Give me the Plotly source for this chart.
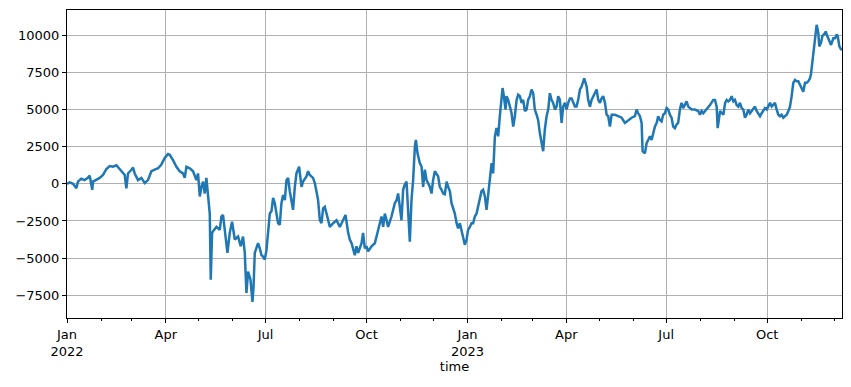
import pandas as pd
import plotly.graph_objects as go

start = "2022-01-01"
days = [0, 2.5, 5.5, 8.5, 10, 13, 16, 19, 20.7, 23, 23.7, 26.8, 29.8, 32.8, 35.9, 38.9, 41.9, 45, 47.4, 49.6,
        52.6, 54.1, 55.6, 58.7, 60.2, 61.7, 64.7, 67.8, 70.8, 73.8, 76.9, 79.9, 83,
        86, 89, 92, 93.6, 96.6, 99.7, 102.7, 105.7, 107.3, 108.8, 111.9, 114.9, 117.9, 119.4, 121, 122.5, 124,
        125.5, 127, 128.5, 130.1, 131, 132.2, 134, 136.2, 139.2, 140.7, 142.2, 143.8, 146.2, 148.3, 150.4, 152.9,
        155.9, 158.3, 160.4, 162, 163.5, 165, 167.2, 169, 170, 171.1, 172.7, 174.1, 175.7, 177.2, 178.7, 180.2,
        181.8, 183.2, 184.8, 186.3, 187.8, 189.3, 190.9, 192.3, 193.9, 195.4, 196.9, 198.5, 200, 201.5, 203,
        204.6, 206, 207.6, 209.1, 211.5, 213.7, 215.1, 218.2, 219.7, 221.2, 224.2, 225.8, 227.3, 228.8, 230.4,
        231.9, 233.4, 234.9, 236.5, 239.5, 242.5, 245.6, 248.6, 251.6, 253.8, 256.2, 257.7, 259.3, 260.7, 262.3,
        263.8, 265.3, 268.4, 269.8, 271.4, 272.9, 274.4, 277.5, 280.5, 283.5, 285.1, 286.6, 288.1, 289.6, 291.2,
        292.6, 295.7, 298.7, 300.3, 301.7, 303.3, 304.8, 306.3, 307.8, 309.4, 310.3, 311.5, 312.4, 313.9, 315.4,
        317, 317.9, 319.4, 321.5, 323.1, 324.5, 326.1, 327.6, 330.6, 332.2, 333.6, 335.2, 338.2, 339.7, 341.3,
        342.8, 344.3, 345.9, 347.3, 348.9, 350.4, 351.9, 353.4, 355, 356.4, 358, 359.5, 361, 362.5, 364.1, 365.5,
        367.1, 368.6, 370.1, 371.6, 373.2, 374.7, 376.2, 377.7, 379.2, 380.8, 382.3, 383.8, 385.3, 386.9, 388.3,
        389.2, 389.9, 391.4, 392.9, 394.4, 396, 396.9, 398.1, 399.6, 400.5, 402, 403.6, 405.1, 406.6, 408.1, 409.7,
        411.1, 412.7, 414.2, 415.7, 417.2, 418.8, 420.2, 421.8, 423.3, 424.8, 426.3, 427.9, 429.3, 430.9, 432.4,
        433.9, 435.4, 437, 438.5, 440, 441.5, 443, 444.6, 446.1, 447.6, 449.1, 450.7, 452.1, 453.7, 455.2, 456.7,
        458.3, 459.8, 461.3, 462.8, 464.3, 465.8, 467.4, 468.9, 471.3, 473.5, 474.9, 476.5, 478, 479.5, 481, 482.6,
        484.1, 485.6, 487.1, 488.6, 490.2, 491.7, 493.2, 494.7, 496.3, 499.3, 502.3, 505.4, 508.4, 511.4, 514.5,
        517.5, 519, 520.5, 522.1, 523.6, 524.5, 526.6, 528.2, 529.6, 531.2, 532.7, 534.2, 535.7, 537.3, 538.7,
        540.3, 541.8, 543.3, 544.8, 546.4, 547.8, 549.4, 550.9, 552.4, 553.9, 555.5, 556.9, 558.5, 560, 561.5,
        563.1, 564.6, 566.1, 567.6, 569.2, 572.2, 575.2, 576.8, 578.3, 579.8, 582.9, 585.9, 588.9, 590.5, 592,
        592.9, 595.1, 596.6, 598.1, 599.7, 601.1, 602.6, 604.1, 605.7, 607.2, 608.7, 610.2, 611.7, 613.2, 614.8,
        616.3, 617.8, 619.3, 620.8, 622.4, 623.9, 626.9, 628.4, 629.9, 631.5, 633, 634.5, 636, 637.6, 639.1, 640.6,
        642.1, 643.6, 645.1, 646.7, 648.2, 649.7, 651.2, 652.7, 654.3, 655.8, 657.3, 658.8, 660.3, 661.8, 663.4,
        664.9, 666.4, 667.9, 669.5, 670.9, 672.5, 674, 675.5, 677, 677.9, 679.1, 680, 681, 682.3, 683.1, 684.6,
        685.5, 687.1, 688.3, 689.8, 691.3, 692.8, 694.4, 696.2, 698.3, 699.9, 701.4, 702.3, 703.8, 705.3, 706.2]
values = [0, 100, 0, -300, 150, 350, 250, 400, 550, -400, 150, 250, 400, 600, 1000, 1200, 1150, 1250, 1050, 850,
          600, -300, 700, 950, 1100, 700, 250, 400, 50, 250, 850, 950, 1050,
          1300, 1750, 2000, 1950, 1600, 1150, 850, 700, 400, 1150, 1050, 850, 250, 700, -850, -200, 150,
          -650, 400, -850, -2000, -6450, -3300, -3100, -2900, -3100, -2200, -2100, -3100, -4650, -3300, -2550, -3750,
          -3550, -4200, -3550, -4650, -7350, -5900, -6450, -7950, -6900, -4650, -4200, -4000, -4350, -4800, -4900, -5100,
          -4450, -3100, -2000, -1850, -950, -1300, -2200, -2650, -2750, -1300, -750, -1100, 250, 400, -500,
          -1100, -1750, -200, 700, 1150, -200, 150, 500, 850, 600, 400, 50, -500, -1100, -2450,
          -2650, -1650, -1550, -2000, -2900, -2650, -2450, -2900, -2450, -2100, -3300, -3750, -4000, -4450, -4800,
          -4200, -4650, -4000, -3300, -4350, -4200, -4550, -4200, -4000, -3100, -2450, -2200, -2900, -2000, -2450,
          -2900, -2200, -1300, -1100, -650, -1550, -2450, -400, -50, 150, -1100, -2450, -3900, -1100, 250,
          2500, 2950, 2050, 1400, 1150, -200, 950, 250, -200, -650, 250, 850, 500, -200, -400,
          -650, -700, 150, -200, -500, -1300, -1650, -2000, -2650, -3000, -2650, -3100, -3650, -4100, -3750, -3100,
          -2900, -2650, -2650, -2200, -2000, -1550, -1100, -500, -400, -850, -1750, -650, 700, 1400, 700,
          2050, 3200, 3750, 3200, 4550, 5650, 6450, 5900, 5000, 5900, 5650, 5200, 4750, 3850, 4550, 5650,
          6000, 5900, 5450, 5650, 4900, 5000, 5650, 5900, 6350, 6100, 5000, 4650, 4300, 3400, 2750,
          2200, 3650, 4550, 5000, 6100, 5650, 5450, 5000, 5200, 5900, 5650, 4100, 5200, 5450, 5000, 5450,
          5750, 5750, 5450, 5200, 5200, 5650, 6350, 6550, 7100, 6550, 5650, 5200, 5650, 5900, 6100, 6350,
          5650, 5450, 5750, 5900, 5450, 4650, 4550, 3850, 4650, 4650, 4550, 4450, 4100, 4300, 4450,
          4550, 5000, 4750, 4550, 4100, 2200, 2050, 2750, 2950, 3200, 2950, 3400, 3850, 4100, 4550,
          4300, 4200, 4650, 4750, 5100, 5000, 4650, 4450, 3850, 3750, 4000, 4100, 5000, 5450, 5100,
          5300, 5550, 5200, 5100, 5000, 5000, 4900, 4650, 4900, 4750, 5000, 5300, 5650, 5650, 5200,
          3750, 4900, 4750, 4650, 5450, 5650, 5550, 5650, 5900, 5550, 5650, 5300, 5200, 5450, 5100,
          5000, 4450, 4650, 5000, 4750, 4900, 5200, 4900, 4750, 4550, 4750, 4900, 5100, 5000, 5200, 5450,
          5200, 5300, 5450, 5000, 4650, 4550, 4650, 4450, 4550, 4650, 4900, 5200, 5900, 6800, 7000,
          6900, 6900, 6650, 6350, 6200, 6800, 6800, 6900, 7100, 7350, 8150, 8700, 9250, 9950, 10700, 10150,
          9250, 9500, 9950, 10050, 10250, 9950, 9700, 9350, 9800, 9800, 10050, 9950, 9250, 9050, 9050]

y_tickvals = [-7500, -5000, -2500, 0, 2500, 5000, 7500, 10000]
y_ticktext = ["\u22127500", "\u22125000", "\u22122500", "0", "2500", "5000", "7500", "10000"]
x_tickvals = ["2022-01-01", "2022-04-01", "2022-07-01", "2022-10-01",
              "2023-01-01", "2023-04-01", "2023-07-01", "2023-10-01"]
x_ticktext = ["Jan<br>2022", "Apr", "Jul", "Oct", "Jan<br>2023", "Apr", "Jul", "Oct"]

time = pd.to_datetime(start) + pd.to_timedelta(days, unit="D")

fig = go.Figure()
fig.add_trace(go.Scatter(x=time, y=values, mode="lines",
                         line=dict(color="#1f77b4", width=2.5), showlegend=False))

axis_common = dict(showline=True, mirror=True, linecolor="black", linewidth=1,
                   ticks="outside", ticklen=4, tickcolor="black",
                   showgrid=True, gridcolor="#b0b0b0", gridwidth=0.8, zeroline=False,
                   tickfont=dict(size=13))

fig.update_xaxes(range=[time.min(), time.max()], tickvals=x_tickvals, ticktext=x_ticktext,
                 title=dict(text="time", standoff=4, font=dict(size=13)),
                 minor=dict(ticks="outside", ticklen=2, tickcolor="black", dtick="M1",
                            tick0="2022-01-01", showgrid=False),
                 **axis_common)
fig.update_yaxes(range=[-9030, 11700], tickvals=y_tickvals, ticktext=y_ticktext, **axis_common)

fig.update_layout(width=851, height=387, margin=dict(l=67, r=9, t=10, b=69),
                  plot_bgcolor="white", paper_bgcolor="white",
                  font=dict(family="DejaVu Sans", size=13, color="black"))

fig.write_html("out.html")
